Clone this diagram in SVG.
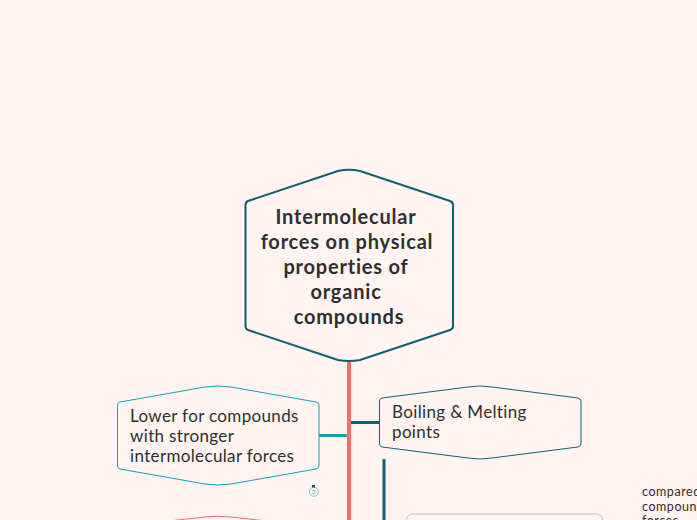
<svg xmlns="http://www.w3.org/2000/svg" width="697" height="520" viewBox="0 0 697 520">
<style>
text{font-family:"Lato","Noto Sans",sans-serif;fill:#2f2f2f}
.t{font-size:20px;font-weight:700;text-anchor:middle;letter-spacing:.8px}
.n{font-size:17px;letter-spacing:.35px}
.s{font-size:12.5px;letter-spacing:.55px}
.h{fill:#fff4f1;stroke-linejoin:round}
.c{fill:none}
</style>
<rect width="697" height="520" fill="#fff4f1"/>
<g id="connectors" class="c">
<path d="M349 361V520" stroke="#f0706c" stroke-width="4"/>
<path d="M319 435.500H347" stroke="#1a9fb0" stroke-width="3"/>
<path d="M351 422.500H380" stroke="#12606c" stroke-width="3"/>
<path d="M384 459V520" stroke="#12606c" stroke-width="3"/>
</g>
<g id="root">
<path class="h" stroke="#12606c" stroke-width="2" d="M338 171Q349 168.500 360 171L450 201Q453 202 453 205V326Q453 329 450 330L360 360Q349 362 338 360L248 330Q245.500 329 245.500 326V205Q245.500 202 248 201Z"/>
<text class="t"><tspan x="346" y="224">Intermolecular</tspan><tspan x="347" y="249">forces on physical</tspan><tspan x="346" y="274">properties of</tspan><tspan x="346" y="299">organic</tspan><tspan x="349" y="324">compounds</tspan></text>
</g>
<g id="lower">
<path class="h" stroke="#1a9fb0" stroke-width="1" d="M205 387Q218 385 231 387L316 402Q319 403 319 405V466Q319 468 316 469L231 484Q218 486 205 484L120 469Q117.500 468 117.500 466V405Q117.500 403 120 402Z"/>
<text class="n"><tspan x="130" y="422">Lower for compounds</tspan><tspan x="130" y="442">with stronger</tspan><tspan x="130" y="462">intermolecular forces</tspan></text>
</g>
<g id="badge">
<rect x="312" y="485" width="3" height="2.500" fill="#12606c"/>
<circle cx="313.800" cy="491.800" r="4.500" fill="none" stroke="#1a9fb0" stroke-width=".8" opacity=".7"/>
<text x="313.800" y="494" font-size="6" text-anchor="middle" opacity=".6">2</text>
</g>
<g id="boiling">
<path class="h" stroke="#12606c" stroke-width="1" d="M468 387Q480 385 492 387L578 398Q581 399 581 401V444Q581 446 578 447L492 458Q480 460 468 458L382 447Q379.500 446 379.500 444V401Q379.500 399 382 398Z"/>
<text class="n"><tspan x="392" y="418">Boiling &amp; Melting</tspan><tspan x="392" y="438">points</tspan></text>
</g>
<g id="partial-left">
<path class="h" stroke="#f0706c" stroke-width="1" d="M160 522L205 517Q218 515.500 231 517L276 522"/>
</g>
<g id="partial-box">
<rect x="406.500" y="514" width="196" height="20" rx="6" fill="none" stroke="#b3c4c6" stroke-width="1"/>
</g>
<g id="partial-text">
<text class="s"><tspan x="642" y="496">compared</tspan><tspan x="642" y="511">compoun</tspan><tspan x="642" y="525">forces</tspan></text>
</g>
</svg>
